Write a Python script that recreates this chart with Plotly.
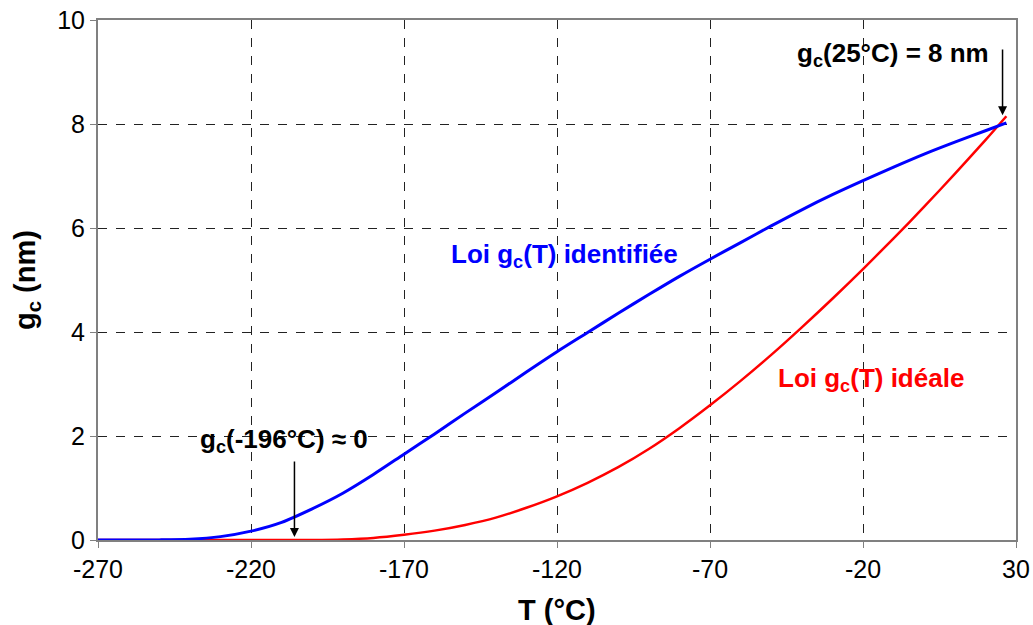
import plotly.graph_objects as go

# Data
T_blue = [-270, -260, -250, -240, -230, -220, -210, -200, -190, -180, -170, -160, -150, -140,
          -130, -120, -110, -100, -90, -80, -70, -60, -50, -40, -30, -20, -10, 0, 10, 20, 26.85]
gc_blue = [0, 0, 0.002, 0.015, 0.065, 0.17, 0.34, 0.6, 0.9, 1.26, 1.65, 2.04, 2.44, 2.83,
           3.23, 3.62, 3.99, 4.36, 4.72, 5.07, 5.4, 5.72, 6.04, 6.35, 6.64, 6.91, 7.17, 7.42, 7.65, 7.87, 8.02]

T_red = [-270, -260, -250, -240, -230, -220, -210, -200, -190, -180, -170, -160, -150, -140,
         -130, -120, -110, -100, -90, -80, -70, -60, -50, -40, -30, -20, -10, 0, 10, 20, 26.85]
gc_red = [0, 0, 0, 0, 0, 0, 0, 0.002, 0.012, 0.04, 0.1, 0.18, 0.29, 0.43,
          0.62, 0.84, 1.1, 1.4, 1.75, 2.15, 2.59, 3.06, 3.56, 4.09, 4.64, 5.21, 5.8, 6.41, 7.04, 7.69, 8.15]

x_ticks = [-270, -220, -170, -120, -70, -20, 30]
y_ticks = [0, 2, 4, 6, 8, 10]

FONT = "Arial, Liberation Sans, sans-serif"

fig = go.Figure()
fig.add_trace(go.Scatter(x=T_red, y=gc_red, mode="lines",
                         line=dict(color="#FF0000", width=2.5, shape="spline", smoothing=0.8),
                         showlegend=False, hoverinfo="skip"))
fig.add_trace(go.Scatter(x=T_blue, y=gc_blue, mode="lines",
                         line=dict(color="#0000FF", width=3, shape="spline", smoothing=0.8),
                         showlegend=False, hoverinfo="skip"))

annotations = [
    dict(x=-117.4, y=5.48, text="<b>Loi g<sub>c</sub>(T) identifiée</b>", showarrow=False,
         font=dict(family=FONT, size=26, color="#0000FF"), xanchor="center", yanchor="middle"),
    dict(x=-17.4, y=3.08, text="<b>Loi g<sub>c</sub>(T) idéale</b>", showarrow=False,
         font=dict(family=FONT, size=26, color="#FF0000"), xanchor="center", yanchor="middle"),
    dict(x=-209.2, y=1.92, text="<b>g<sub>c</sub>(-196°C) ≈ 0</b>", showarrow=False,
         font=dict(family=FONT, size=26, color="black"), xanchor="center", yanchor="middle"),
    dict(x=-10.2, y=9.33, text="<b>g<sub>c</sub>(25°C) = 8 nm</b>", showarrow=False,
         font=dict(family=FONT, size=26, color="black"), xanchor="center", yanchor="middle"),
    dict(x=-205.8, y=0.06, ax=-205.8, ay=1.54, axref="x", ayref="y", xref="x", yref="y",
         text="", showarrow=True, arrowhead=2, arrowsize=1.2, arrowwidth=1.5, arrowcolor="black"),
    dict(x=25.6, y=8.17, ax=25.6, ay=9.46, axref="x", ayref="y", xref="x", yref="y",
         text="", showarrow=True, arrowhead=2, arrowsize=1.2, arrowwidth=1.5, arrowcolor="black"),
    # axis titles
    dict(x=0.5, y=0, xref="paper", yref="paper", yshift=-70, text="<b>T (°C)</b>", showarrow=False,
         font=dict(family=FONT, size=29, color="black"), xanchor="center", yanchor="middle"),
    dict(x=0, y=0.5, xref="paper", yref="paper", xshift=-71, text="<b>g<sub>c</sub> (nm)</b>", showarrow=False,
         textangle=-90, font=dict(family=FONT, size=29, color="black"), xanchor="center", yanchor="middle"),
]

fig.update_layout(
    width=1033, height=625,
    margin=dict(l=98, r=17, t=20, b=85),
    paper_bgcolor="white", plot_bgcolor="white",
    font=dict(family=FONT, color="black"),
    annotations=annotations,
    xaxis=dict(range=[-270, 30], tickvals=x_ticks, ticktext=[str(v) for v in x_ticks],
               showgrid=True, gridcolor="#222222", griddash="dash", gridwidth=1,
               showline=True, linecolor="#808080", linewidth=2, mirror=True,
               ticks="outside", ticklen=6, tickcolor="#808080", zeroline=False,
               automargin=False, ticklabeloverflow="allow",
               tickfont=dict(family=FONT, size=25, color="black")),
    yaxis=dict(range=[0, 10], tickvals=y_ticks, ticktext=[str(v) for v in y_ticks],
               showgrid=True, gridcolor="#222222", griddash="dash", gridwidth=1,
               showline=True, linecolor="#808080", linewidth=2, mirror=True,
               ticks="outside", ticklen=6, tickcolor="#808080", zeroline=False,
               automargin=False, ticklabeloverflow="allow",
               tickfont=dict(family=FONT, size=25, color="black")),
)

fig.write_html("out.html", config={"displayModeBar": False},
               post_script="document.body.style.margin='0';document.body.style.overflow='hidden';")
